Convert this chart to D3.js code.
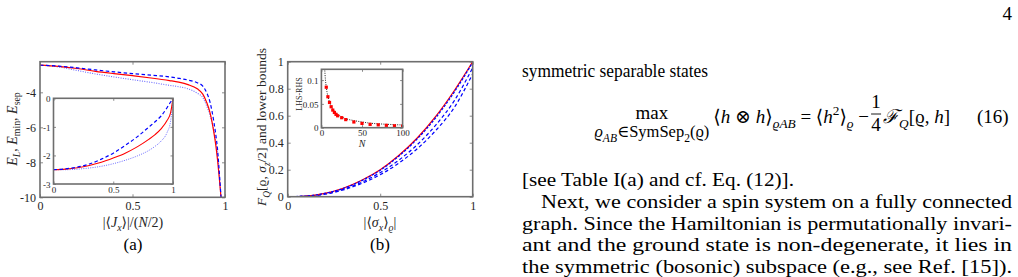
<!DOCTYPE html>
<html>
<head>
<meta charset="utf-8">
<script src="https://cdn.jsdelivr.net/npm/d3@7"></script>
<style>
body { margin: 0; background: #fff; }
text { font-family: "Liberation Serif", "DejaVu Serif", serif; }
</style>
</head>
<body>
<div id="page"></div>
<script>
// ---- panel (a): energies vs |<Jx>|/(N/2)
var aX    = [0, 0.1, 0.2, 0.3, 0.4, 0.5, 0.6, 0.7, 0.75, 0.8, 0.85, 0.88, 0.9, 0.92, 0.94, 0.95, 0.96, 0.97, 0.98];
var aRed  = [-2.45, -2.52, -2.64, -2.80, -2.93, -3.05, -3.18, -3.33, -3.42, -3.56, -3.80, -4.10, -4.55, -5.20, -6.30, -7.00, -7.90, -9.00, -10.2];
var aDash = [-2.45, -2.50, -2.60, -2.72, -2.83, -2.93, -3.02, -3.12, -3.20, -3.30, -3.45, -3.65, -4.00, -4.60, -5.70, -6.40, -7.30, -8.70, -10.2];
var aDot  = [-2.45, -2.55, -2.75, -2.95, -3.12, -3.28, -3.43, -3.60, -3.68, -3.80, -4.05, -4.30, -4.75, -5.35, -6.20, -6.80, -7.60, -8.80, -10.2];
var aXTicks = [0, 0.5, 1];
var aYTicks = [-10, -8, -6, -4];

// inset of (a)
var iaX    = [0, 0.1, 0.2, 0.3, 0.4, 0.5, 0.6, 0.7, 0.8, 0.85, 0.9, 0.95, 0.98, 1];
var iaRed  = [-2.5, -2.48, -2.43, -2.35, -2.24, -2.09, -1.92, -1.70, -1.43, -1.27, -1.07, -0.78, -0.50, 0];
var iaDash = [-2.5, -2.47, -2.41, -2.30, -2.13, -1.92, -1.65, -1.35, -1.00, -0.82, -0.62, -0.33, -0.13, 0];
var iaDot  = [-2.5, -2.50, -2.48, -2.44, -2.38, -2.29, -2.17, -2.02, -1.82, -1.68, -1.50, -1.20, -0.80, 0];
var iaXTicks = [0, 0.5, 1];
var iaYTicks = [-3, -2, -1, 0];

// ---- panel (b): F_Q and lower bounds vs |<sigma_x>|
var bX     = [0, 0.1, 0.2, 0.3, 0.4, 0.5, 0.6, 0.7, 0.8, 0.9, 1];
var bRed   = [0, 0.005, 0.025, 0.063, 0.122, 0.200, 0.305, 0.435, 0.595, 0.785, 1.0];
var bBlue1 = [0, 0.005, 0.024, 0.061, 0.119, 0.196, 0.300, 0.428, 0.585, 0.775, 0.995];
var bBlue2 = [0, 0.004, 0.021, 0.055, 0.107, 0.178, 0.270, 0.385, 0.530, 0.710, 0.955];
var bBlue3 = [0, 0.003, 0.018, 0.050, 0.098, 0.163, 0.248, 0.355, 0.490, 0.660, 0.910];
var bXTicks = [0, 0.5, 1];
var bYTicks = [0, 0.2, 0.4, 0.6, 0.8, 1];

// inset of (b): LHS-RHS vs N
var ibN     = [6, 8, 10, 12, 14, 16, 18, 20, 25, 30, 40, 50, 60, 70, 80, 90, 100];
var ibDiff  = [0.085, 0.065, 0.053, 0.044, 0.037, 0.032, 0.028, 0.025, 0.021, 0.017, 0.012, 0.009, 0.007, 0.006, 0.005, 0.004, 0.0035];
var ibCurveN = [4, 5, 6, 7, 8, 10, 12, 15, 20, 25, 30, 40, 50, 60, 70, 80, 90, 100];
var ibCurve  = [0.125, 0.100, 0.086, 0.074, 0.066, 0.054, 0.045, 0.037, 0.028, 0.023, 0.019, 0.015, 0.012, 0.0095, 0.0082, 0.0072, 0.0064, 0.0057];
var ibXTicks = [0, 50, 100];
var ibYTicks = [0, 0.05, 0.1];

var W = 1018, H = 277;
var axisCol = "#6e6e6e", labCol = "#262626";

var svg = d3.select("#page").append("svg")
    .attr("width", W).attr("height", H);

var clipId = 0;

// draw a MATLAB-like box axes, returns {g, plot, x, y}
function box(o) {
    var x = d3.scaleLinear().domain(o.xd).range([o.left, o.right]);
    var y = d3.scaleLinear().domain(o.yd).range([o.bottom, o.top]);
    var g = svg.append("g");
    g.append("rect")
        .attr("x", o.left).attr("y", o.top)
        .attr("width", o.right - o.left).attr("height", o.bottom - o.top)
        .attr("fill", "#fff");
    var id = "clip" + (clipId++);
    g.append("clipPath").attr("id", id).append("rect")
        .attr("x", o.left).attr("y", o.top)
        .attr("width", o.right - o.left).attr("height", o.bottom - o.top);
    var t = o.tick;
    var axes = [
        [d3.axisBottom(x), "translate(0," + o.bottom + ")", true],
        [d3.axisTop(x), "translate(0," + o.top + ")", false],
        [d3.axisLeft(y), "translate(" + o.left + ",0)", true],
        [d3.axisRight(y), "translate(" + o.right + ",0)", false]
    ];
    axes.forEach(function (a, i) {
        var ax = a[0].tickSizeInner(-t).tickSizeOuter(0)
            .tickValues(i < 2 ? o.xt : o.yt)
            .tickFormat(a[2] ? fmt : "");
        var ag = g.append("g").attr("transform", a[1]).call(ax);
        ag.select(".domain").remove();
        ag.selectAll("line").attr("stroke", axisCol).attr("stroke-width", 0.8);
        ag.selectAll("text").attr("fill", labCol)
            .attr("font-size", o.fs).attr("font-family", "Liberation Serif");
        if (i === 0) ag.selectAll("text").attr("y", o.xly).attr("dy", 0);
        if (i === 2) ag.selectAll("text").attr("x", -o.ylx).attr("dy", "0.35em");
    });
    var plot = g.append("g").attr("clip-path", "url(#" + id + ")");
    g.append("rect")
        .attr("x", o.left).attr("y", o.top)
        .attr("width", o.right - o.left).attr("height", o.bottom - o.top)
        .attr("fill", "none").attr("stroke", axisCol).attr("stroke-width", o.bw);
    return { g: g, plot: plot, x: x, y: y };
}

function curve(ax, xs, ys, col, w, dash, op) {
    var line = d3.line()
        .x(function (d, i) { return ax.x(xs[i]); })
        .y(function (d) { return ax.y(d); })
        .curve(d3.curveMonotoneX);
    ax.plot.append("path").datum(ys)
        .attr("d", line)
        .attr("fill", "none")
        .attr("stroke", col)
        .attr("stroke-width", w)
        .attr("stroke-dasharray", dash)
        .attr("opacity", op || 1);
}

// rich text with italic / subscript / superscript parts
function rich(sel, parts, size) {
    var off = 0;
    parts.forEach(function (p) {
        var s = p[1] || "";
        var target = s.indexOf("_") >= 0 ? size * 0.28 : (s.indexOf("^") >= 0 ? -size * 0.4 : 0);
        var ts = sel.append("tspan").text(p[0]).attr("dy", target - off);
        off = target;
        if (s.indexOf("i") >= 0) ts.attr("font-style", "italic");
        if (target !== 0) ts.attr("font-size", size * 0.7);
    });
    return sel;
}

function fmt(d) { return d3.format("~g")(d).replace("−", "-"); }

// ---------------- panel (a)
var A = box({ left: 40, right: 225, top: 61.7, bottom: 197.3, xd: [0, 1], yd: [-10, -2.25],
    xt: aXTicks, yt: aYTicks, tick: 3, fs: 12, xly: 13, ylx: 4, bw: 1.6 });
curve(A, aX, aDot, "#3a3aff", 1.1, "1,1.4", 0.75);
curve(A, aX, aRed, "#ff0000", 1.2, null);
curve(A, aX, aDash, "#0000ff", 1.2, "3.5,2.5");

var IA = box({ left: 53.5, right: 173, top: 98.3, bottom: 184, xd: [0, 1], yd: [-3, 0],
    xt: iaXTicks, yt: iaYTicks, tick: 2.5, fs: 9, xly: 8.5, ylx: 3, bw: 1.6 });
curve(IA, iaX, iaDot, "#3a3aff", 1.0, "1,1.3", 0.75);
curve(IA, iaX, iaRed, "#ff0000", 1.1, null);
curve(IA, iaX, iaDash, "#0000ff", 1.2, "3.5,2.5");

rich(svg.append("text").attr("transform", "translate(16.5,129) rotate(-90)")
    .attr("text-anchor", "middle").attr("font-size", 14).attr("fill", labCol),
    [["E", "i"], ["L", "_i"], [",  "], ["E", "i"], ["min", "_"], [",  "], ["E", "i"], ["sep", "_"]], 14);
rich(svg.append("text").attr("x", 133).attr("y", 227)
    .attr("text-anchor", "middle").attr("font-size", 14).attr("fill", labCol),
    [["|⟨"], ["J", "i"], ["x", "_i"], ["⟩|/("], ["N", "i"], ["/2)"]], 14);
svg.append("text").attr("x", 133).attr("y", 250).attr("text-anchor", "middle")
    .attr("font-size", 17).attr("fill", "#000").text("(a)");

// ---------------- panel (b)
var B = box({ left: 287.7, right: 472.7, top: 61.7, bottom: 196.7, xd: [0, 1], yd: [0, 1],
    xt: bXTicks, yt: bYTicks, tick: 3, fs: 12, xly: 13, ylx: 4, bw: 1.6 });
curve(B, bX, bBlue3, "#0000ff", 1.2, "3.5,2.5");
curve(B, bX, bBlue2, "#0000ff", 1.2, "3.5,2.5");
curve(B, bX, bRed, "#ff0000", 1.2, null);
curve(B, bX, bBlue1, "#0000ff", 1.3, "2.5,1.5");

var IB = box({ left: 321.4, right: 402.6, top: 69.3, bottom: 127.7, xd: [0, 100], yd: [0, 0.1226],
    xt: ibXTicks, yt: ibYTicks, tick: 2.5, fs: 9, xly: 8.5, ylx: 3, bw: 1.6 });
curve(IB, ibCurveN, ibCurve, "#222", 1.0, "1,1.3");
IB.plot.selectAll("rect.pt").data(ibDiff).enter().append("rect")
    .attr("class", "pt")
    .attr("x", function (d, i) { return IB.x(ibN[i]) - 1.6; })
    .attr("y", function (d) { return IB.y(d) - 1.6; })
    .attr("width", 3.2).attr("height", 3.2)
    .attr("fill", "#ff0000");
svg.append("text").attr("transform", "translate(302,94) rotate(-90)")
    .attr("text-anchor", "middle").attr("font-size", 8).attr("fill", labCol).text("LHS-RHS");
svg.append("text").attr("x", 362).attr("y", 147).attr("text-anchor", "middle")
    .attr("font-size", 10).attr("font-style", "italic").attr("fill", labCol).text("N");

rich(svg.append("text").attr("transform", "translate(266,127) rotate(-90)")
    .attr("text-anchor", "middle").attr("font-size", 13.5).attr("fill", labCol),
    [["F", "i"], ["Q", "_i"], ["[ϱ, "], ["σ", "i"], ["z", "_i"], ["/2]  and lower bounds"]], 13.5);
rich(svg.append("text").attr("x", 380).attr("y", 227)
    .attr("text-anchor", "middle").attr("font-size", 14).attr("fill", labCol),
    [["|⟨"], ["σ", "i"], ["x", "_i"], ["⟩"], ["ϱ", "_i"], ["|"]], 14);
svg.append("text").attr("x", 380).attr("y", 250).attr("text-anchor", "middle")
    .attr("font-size", 17).attr("fill", "#000").text("(b)");

// ---------------- right column text
var fs = 19;
var txt = svg.append("g").attr("fill", "#000").attr("font-size", fs);
txt.append("text").attr("x", 1012).attr("y", 20).attr("text-anchor", "end").text("4");
txt.append("text").attr("x", 522).attr("y", 77)
    .attr("textLength", 186).attr("lengthAdjust", "spacingAndGlyphs")
    .text("symmetric separable states");

// equation (16)
var body = rich(txt.append("text").attr("y", 123),
    [["⟨"], ["h", "i"], [" ⊗ "], ["h", "i"], ["⟩"], ["ϱ", "_i"], ["AB", "_i"], [" = ⟨"], ["h", "i"], ["2", "^"], ["⟩"], ["ϱ", "_i"], [" − "]], fs);
var frac = txt.append("g");
frac.append("text").attr("y", 108).attr("text-anchor", "middle").text("1");
frac.append("line").attr("y1", 114).attr("y2", 114).attr("x1", -5).attr("x2", 5)
    .attr("stroke", "#000").attr("stroke-width", 0.9);
frac.append("text").attr("y", 131).attr("text-anchor", "middle").text("4");
var fq = rich(txt.append("text").attr("y", 123),
    [["ℱ", "i"], ["Q", "_i"], ["[ϱ, "], ["h", "i"], ["]"]], fs);
txt.append("text").attr("x", 977).attr("y", 123).text("(16)");

var endX = 950;
var fqW = fq.node().getComputedTextLength();
fq.attr("x", endX - fqW);
var fracX = endX - fqW - 7;
frac.attr("transform", "translate(" + fracX + ",0)");
var bodyW = body.node().getComputedTextLength();
var bodyX = fracX - 7 - bodyW;
body.attr("x", bodyX);

var sub = rich(txt.append("text").attr("y", 137).attr("font-size", 16.5).attr("text-anchor", "middle"),
    [["ϱ", "i"], ["AB", "_i"], ["∈SymSep"], ["2", "_"], ["(ϱ)"]], 16.5);
var subW = sub.node().getComputedTextLength();
var mx = bodyX - 4 - subW / 2;
sub.attr("x", mx);
txt.append("text").attr("x", mx).attr("y", 119).attr("text-anchor", "middle").text("max");

var lines = [
    ["[see Table I(a) and cf. Eq. (12)].", 522, 794, 186],
    ["Next, we consider a spin system on a fully connected", 541, 1012, 208],
    ["graph. Since the Hamiltonian is permutationally invari-", 522, 1012, 229.5],
    ["ant and the ground state is non-degenerate, it lies in", 522, 1012, 251],
    ["the symmetric (bosonic) subspace (e.g., see Ref. [15]).", 522, 1012, 272.5]
];
lines.forEach(function (l) {
    txt.append("text").attr("x", l[1]).attr("y", l[3])
        .attr("textLength", l[2] - l[1]).attr("lengthAdjust", "spacingAndGlyphs")
        .text(l[0]);
});
</script>
</body>
</html>
